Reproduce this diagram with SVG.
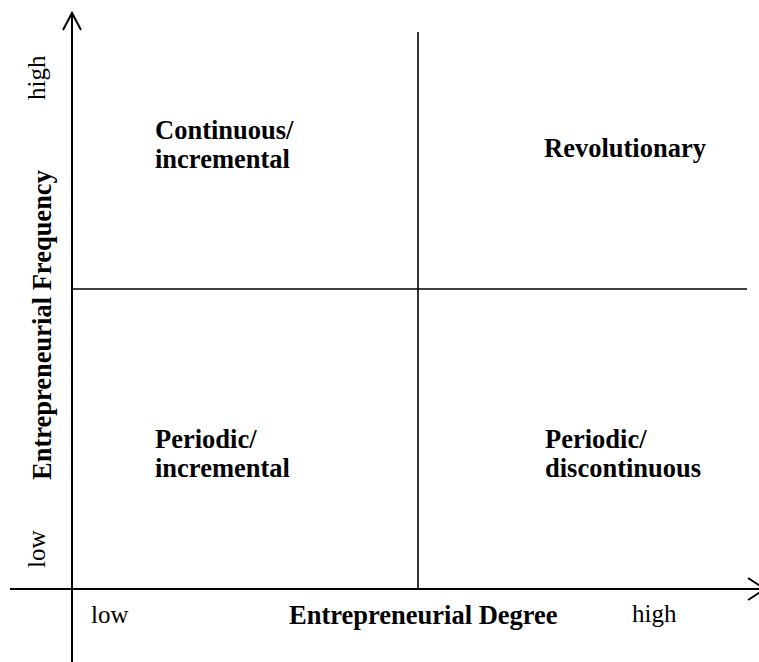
<svg xmlns="http://www.w3.org/2000/svg" width="759" height="662" viewBox="0 0 759 662">
<style>
.ln{stroke:#000;stroke-width:2;fill:none}
.q{stroke:#000;stroke-width:1.6;fill:none}
.b{font-family:"Liberation Serif","Times New Roman",serif;font-weight:bold;font-size:26.5px;fill:#000}
.r{font-family:"Liberation Serif","Times New Roman",serif;font-size:25px;fill:#000}
</style>
<rect width="759" height="662" fill="#fff"/>
<g id="connectors">
<line class="ln" x1="72" y1="14" x2="72" y2="662"/>
<polyline class="ln" points="63,30 72,13 81,30"/>
<line class="ln" x1="10" y1="589" x2="765" y2="589"/>
<polyline class="ln" points="748,578 765,589 748,600"/>
<line class="q" x1="72" y1="289" x2="747" y2="289"/>
<line class="q" x1="418" y1="32" x2="418" y2="588"/>
</g>
<g id="q-continuous"><text class="b" x="155" y="139">Continuous/</text><text class="b" x="155" y="168">incremental</text></g>
<g id="q-revolutionary"><text class="b" x="544" y="157">Revolutionary</text></g>
<g id="q-periodic-incremental"><text class="b" x="155" y="448">Periodic/</text><text class="b" x="155" y="477">incremental</text></g>
<g id="q-periodic-discontinuous"><text class="b" x="545" y="448">Periodic/</text><text class="b" x="545" y="477">discontinuous</text></g>
<g id="x-axis-labels">
<text class="r" x="91" y="623">low</text>
<text class="b" x="289" y="624">Entrepreneurial Degree</text>
<text class="r" x="632" y="622">high</text>
</g>
<g id="y-axis-labels">
<text class="r" transform="translate(45,100) rotate(-90)">high</text>
<text class="r" transform="translate(45,568) rotate(-90)">low</text>
<text class="b" transform="translate(51,480) rotate(-90)">Entrepreneurial Frequency</text>
</g>
</svg>
